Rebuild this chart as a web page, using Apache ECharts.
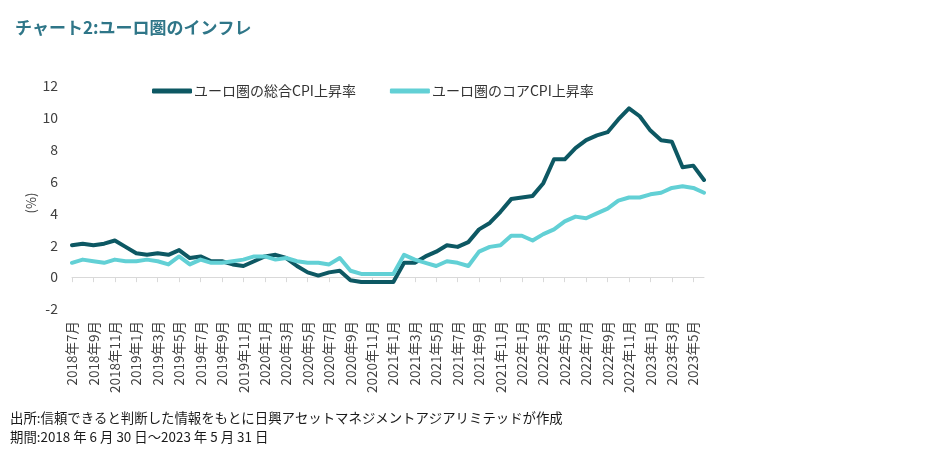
<!DOCTYPE html>
<html>
<head>
<meta charset="utf-8">
<script src="https://cdn.jsdelivr.net/npm/echarts@6/dist/echarts.min.js"></script>
<style>
html,body{margin:0;padding:0;background:#fff;}
#c{width:931px;height:458px;}
</style>
</head>
<body>
<div id="c"></div>
<script>
// Month-end observation months (2018-06 … 2023-05)
var months = [
 '2018年6月','2018年7月','2018年8月','2018年9月','2018年10月','2018年11月','2018年12月',
 '2019年1月','2019年2月','2019年3月','2019年4月','2019年5月','2019年6月','2019年7月','2019年8月','2019年9月','2019年10月','2019年11月','2019年12月',
 '2020年1月','2020年2月','2020年3月','2020年4月','2020年5月','2020年6月','2020年7月','2020年8月','2020年9月','2020年10月','2020年11月','2020年12月',
 '2021年1月','2021年2月','2021年3月','2021年4月','2021年5月','2021年6月','2021年7月','2021年8月','2021年9月','2021年10月','2021年11月','2021年12月',
 '2022年1月','2022年2月','2022年3月','2022年4月','2022年5月','2022年6月','2022年7月','2022年8月','2022年9月','2022年10月','2022年11月','2022年12月',
 '2023年1月','2023年2月','2023年3月','2023年4月','2023年5月'
];
// Tick labels shown every second tick (start of the following month)
var tickLabels = [
 '2018年7月','2018年9月','2018年11月','2019年1月','2019年3月','2019年5月','2019年7月','2019年9月','2019年11月',
 '2020年1月','2020年3月','2020年5月','2020年7月','2020年9月','2020年11月',
 '2021年1月','2021年3月','2021年5月','2021年7月','2021年9月','2021年11月',
 '2022年1月','2022年3月','2022年5月','2022年7月','2022年9月','2022年11月',
 '2023年1月','2023年3月','2023年5月'
];
var headline = [
 2.0, 2.1, 2.0, 2.1, 2.3, 1.9, 1.5,
 1.4, 1.5, 1.4, 1.7, 1.2, 1.3, 1.0, 1.0, 0.8, 0.7, 1.0, 1.3,
 1.4, 1.2, 0.7, 0.3, 0.1, 0.3, 0.4, -0.2, -0.3, -0.3, -0.3, -0.3,
 0.9, 0.9, 1.3, 1.6, 2.0, 1.9, 2.2, 3.0, 3.4, 4.1, 4.9, 5.0,
 5.1, 5.9, 7.4, 7.4, 8.1, 8.6, 8.9, 9.1, 9.9, 10.6, 10.1, 9.2,
 8.6, 8.5, 6.9, 7.0, 6.1
];
var core = [
 0.9, 1.1, 1.0, 0.9, 1.1, 1.0, 1.0,
 1.1, 1.0, 0.8, 1.3, 0.8, 1.1, 0.9, 0.9, 1.0, 1.1, 1.3, 1.3,
 1.1, 1.2, 1.0, 0.9, 0.9, 0.8, 1.2, 0.4, 0.2, 0.2, 0.2, 0.2,
 1.4, 1.1, 0.9, 0.7, 1.0, 0.9, 0.7, 1.6, 1.9, 2.0, 2.6, 2.6,
 2.3, 2.7, 3.0, 3.5, 3.8, 3.7, 4.0, 4.3, 4.8, 5.0, 5.0, 5.2,
 5.3, 5.6, 5.7, 5.6, 5.3
];
var seriesNames = ['ユーロ圏の総合CPI上昇率', 'ユーロ圏のコアCPI上昇率'];
var titleText = 'チャート2:ユーロ圏のインフレ';
var yName = '(%)';
var sourceText = '出所:信頼できると判断した情報をもとに日興アセットマネジメントアジアリミテッドが作成';
var periodText = '期間:2018 年 6 月 30 日～2023 年 5 月 31 日';

var FONT = '"Noto Sans CJK JP", "Noto Sans", sans-serif';
var chart = echarts.init(document.getElementById('c'), null, {renderer: 'canvas'});
var everyOther = function (i) { return i % 2 === 0; };

chart.setOption({
  backgroundColor: '#ffffff',
  animation: false,
  textStyle: {fontFamily: FONT},
  title: {
    text: titleText,
    left: 10, top: 14,
    textStyle: {fontFamily: FONT, fontSize: 17, fontWeight: 'bold', color: '#2f7688'}
  },
  legend: {
    data: seriesNames,
    left: 147, top: 79,
    icon: 'roundRect',
    itemWidth: 40, itemHeight: 5,
    itemGap: 34,
    textStyle: {fontFamily: FONT, fontSize: 14, color: '#333333', padding: [0, 0, 0, -3]}
  },
  grid: {left: 72, right: 227, top: 86, bottom: 149, containLabel: false},
  xAxis: [
    {
      type: 'category', data: months, boundaryGap: false, position: 'bottom',
      axisLine: {show: true, onZero: true, lineStyle: {color: '#d9d9d9', width: 1}},
      axisTick: {show: true, interval: everyOther, length: 5, lineStyle: {color: '#d9d9d9'}},
      axisLabel: {show: false},
      splitLine: {show: false}
    },
    {
      type: 'category', data: months, boundaryGap: false, position: 'bottom',
      axisLine: {show: false, onZero: false},
      axisTick: {show: false},
      axisLabel: {
        show: true, interval: everyOther, rotate: 90, margin: 12,
        fontFamily: FONT, fontSize: 13.5, color: '#404040',
        padding: [8, 0, 0, 0],
        formatter: function (v, i) { return i % 2 === 0 ? tickLabels[i / 2] : ''; }
      },
      splitLine: {show: false}
    }
  ],
  yAxis: {
    type: 'value', min: -2, max: 12, interval: 2,
    axisLine: {show: false},
    axisTick: {show: false},
    splitLine: {show: false},
    axisLabel: {fontFamily: FONT, fontSize: 14, color: '#404040', margin: 14}
  },
  series: [
    {
      name: seriesNames[0], type: 'line', data: headline, xAxisIndex: 0,
      symbol: 'none', smooth: false,
      lineStyle: {width: 4, color: '#0d5863', join: 'round', cap: 'round'},
      itemStyle: {color: '#0d5863'}
    },
    {
      name: seriesNames[1], type: 'line', data: core, xAxisIndex: 0,
      symbol: 'none', smooth: false,
      lineStyle: {width: 4, color: '#62d0d5', join: 'round', cap: 'round'},
      itemStyle: {color: '#62d0d5'}
    }
  ],
  graphic: [
    {type: 'text', x: 31, y: 203, rotation: Math.PI / 2,
     style: {text: yName, font: '13px ' + FONT, fill: '#404040', align: 'center', verticalAlign: 'middle'}},
    {type: 'text', left: 10, top: 411, style: {text: sourceText, font: '13.4px ' + FONT, fill: '#1a1a1a'}},
    {type: 'text', left: 10, top: 430, style: {text: periodText, font: '13.4px ' + FONT, fill: '#1a1a1a'}}
  ]
});
</script>
</body>
</html>
